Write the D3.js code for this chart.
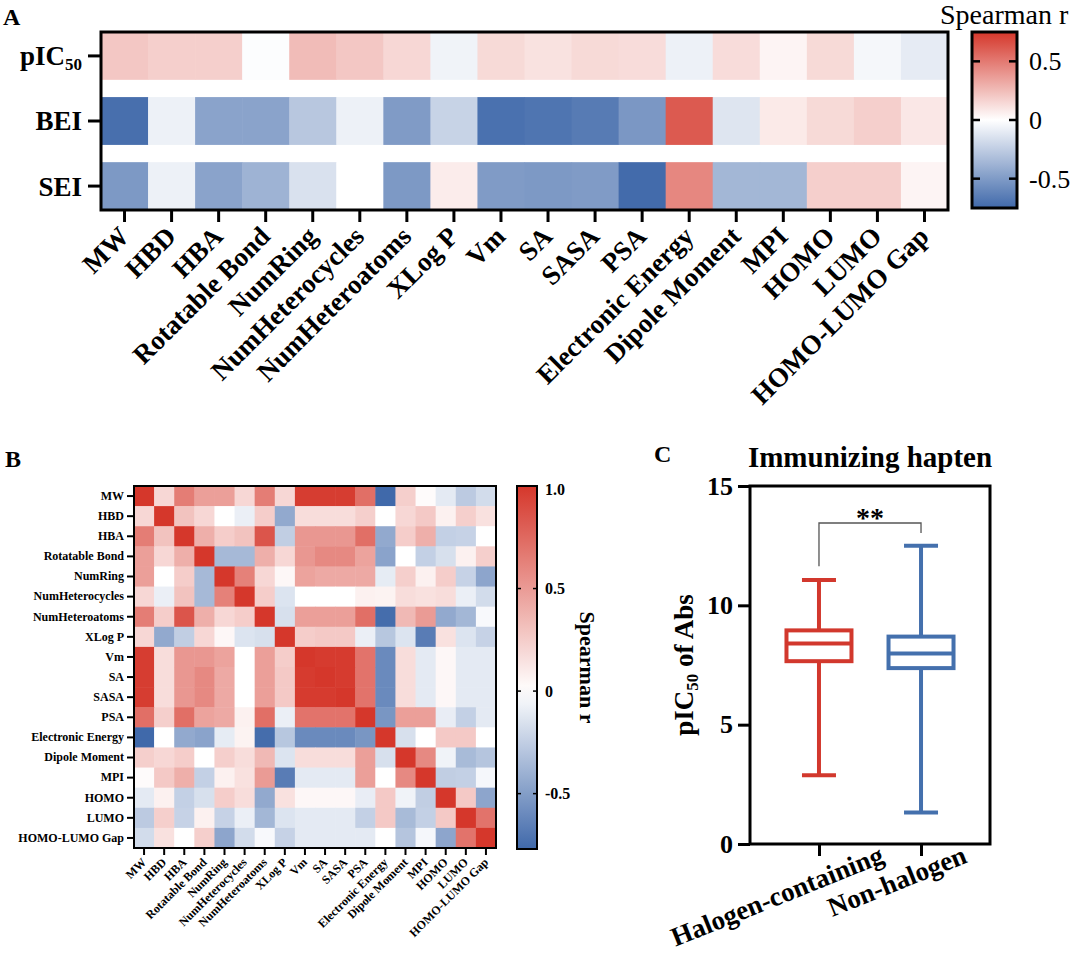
<!DOCTYPE html>
<html><head><meta charset="utf-8">
<script src="https://cdn.jsdelivr.net/npm/d3@7"></script>
<style>
body{margin:0;background:#fff}
svg{display:block}
text{font-family:"Liberation Serif","Times New Roman",serif}
</style>
</head><body>
<svg id="c" width="1080" height="957"></svg>
<script>
// ---------- DATA ----------
const features = ["MW","HBD","HBA","Rotatable Bond","NumRing","NumHeterocycles","NumHeteroatoms","XLog P","Vm","SA","SASA","PSA","Electronic Energy","Dipole Moment","MPI","HOMO","LUMO","HOMO-LUMO Gap"];
const rowsA = ["pIC50","BEI","SEI"];
const pic50Vals = [0.21,0.18,0.18,-0.01,0.25,0.21,0.15,-0.06,0.14,0.11,0.14,0.13,-0.07,0.13,0.04,0.14,-0.04,-0.10];
const beiVals   = [-0.72,-0.07,-0.46,-0.46,-0.28,-0.07,-0.50,-0.22,-0.71,-0.69,-0.66,-0.52,0.62,-0.13,0.08,0.14,0.18,0.09];
const seiVals   = [-0.51,-0.07,-0.46,-0.38,-0.15,0.00,-0.51,0.07,-0.50,-0.51,-0.50,-0.74,0.45,-0.36,-0.36,0.18,0.18,0.04];
const ticksCbA = [0.5, 0, -0.5];

// Panel B correlation matrix (rows/cols in order of `features`)
const corrMatrix = [
 [1,.2,.65,.48,.48,.2,.65,.2,.97,.97,.97,.72,-.77,.24,.02,-.11,-.27,-.18],
 [.2,1,.3,.2,0,-.08,.25,-.44,.17,.17,.17,.24,0,.2,.27,.07,.24,.15],
 [.65,.3,1,.4,.25,.3,.85,-.25,.52,.52,.52,.72,-.44,.25,.4,-.24,-.23,0],
 [.48,.2,.4,1,-.36,-.36,.4,.2,.52,.59,.59,.46,-.47,0,-.24,-.16,.07,.24],
 [.48,0,.25,-.36,1,.63,.2,.04,.46,.43,.43,.43,-.1,.24,.07,.25,-.23,-.46],
 [.2,-.08,.3,-.36,.63,1,.25,-.14,0,0,0,.07,.06,.17,.15,.17,-.08,-.18],
 [.65,.25,.85,.4,.2,.25,1,-.16,.48,.48,.48,.72,-.75,.35,.5,-.44,-.37,-.03],
 [.2,-.44,-.25,.2,.04,-.14,-.16,1,.25,.27,.27,-.08,-.29,-.14,-.67,.15,-.14,-.23],
 [.97,.17,.52,.52,.46,0,.48,.25,1,.98,.98,.7,-.6,.17,-.11,.04,-.11,-.11],
 [.97,.17,.52,.59,.43,0,.48,.27,.98,1,.98,.7,-.6,.17,-.11,.04,-.11,-.11],
 [.97,.17,.52,.59,.43,0,.48,.27,.98,.98,1,.7,-.6,.17,-.11,.04,-.11,-.11],
 [.72,.24,.72,.46,.43,.07,.72,-.08,.7,.7,.7,1,-.54,.48,.48,-.09,-.24,-.11],
 [-.77,0,-.44,-.47,-.1,.06,-.75,-.29,-.6,-.6,-.6,-.54,1,-.16,0,.27,.27,0],
 [.24,.2,.25,0,.24,.17,.35,-.14,.17,.17,.17,.48,-.16,1,.59,-.06,-.35,-.3],
 [.02,.27,.4,-.24,.07,.15,.5,-.67,-.11,-.11,-.11,.48,0,.59,1,-.25,-.24,-.04],
 [-.11,.07,-.24,-.16,.25,.17,-.44,.15,.04,.04,.04,-.09,.27,-.06,-.25,1,.27,-.46],
 [-.27,.24,-.23,.07,-.23,-.08,-.37,-.14,-.11,-.11,-.11,-.24,.27,-.35,-.24,.27,1,.7],
 [-.18,.15,0,.24,-.46,-.18,-.03,-.23,-.11,-.11,-.11,-.11,0,-.3,-.04,-.46,.7,1]
];
const ticksCbB = [1.0, 0.5, 0, -0.5];

// Panel C box plot summary
const groupsC = ["Halogen-containing","Non-halogen"];
const boxMin    = [2.88, 1.32];
const boxQ1     = [7.66, 7.37];
const boxMedian = [8.40, 7.98];
const boxQ3     = [8.95, 8.69];
const boxMax    = [11.06, 12.50];
const ticksC = [0, 5, 10, 15];
const sigBracket = [11.64, 13.45, 13.03]; // left leg end, top, right leg end
const sigLabel = "**";

// ---------- STYLE ----------
const RED = "#d5372b", BLUE = "#4069aa", WHITE = "#ffffff";
const FONT = "Liberation Serif, Times New Roman, serif";
const colorA = d3.scaleLinear().domain([-0.75,0,0.75]).range([BLUE,WHITE,RED]).clamp(true);
const colorB = d3.scaleLinear().domain([-0.77,0,1]).range([BLUE,WHITE,RED]).clamp(true);
const boxColors = ["#d2382d","#4470ad"];
const labelShiftC = [66, 47];

const svg = d3.select("#c");
const defs = svg.append("defs");

function vGradient(id, scale, lo, hi){
  const g = defs.append("linearGradient").attr("id",id).attr("x1",0).attr("y1",1).attr("x2",0).attr("y2",0);
  d3.range(0,1.0001,0.05).forEach(t=>{
    const v = lo + (hi-lo)*t;
    g.append("stop").attr("offset",t).attr("stop-color",scale(v));
  });
}

// ---------- PANEL A ----------
const A = {x0:101, x1:948, y0:32, y1:210};
const xA = d3.scaleBand().domain(features).range([A.x0,A.x1]);
const yA = d3.scaleBand().domain(rowsA).range([A.y0,A.y1]).paddingInner(0.265).paddingOuter(0);
const valsA = [pic50Vals, beiVals, seiVals];
const gA = svg.append("g");
rowsA.forEach((r,i)=>{
  gA.append("g").selectAll("rect").data(valsA[i]).join("rect")
    .attr("x",(d,j)=>xA(features[j])).attr("y",yA(r))
    .attr("width",xA.bandwidth()+0.6).attr("height",yA.bandwidth())
    .attr("fill",d=>colorA(d));
});
gA.append("rect").attr("x",A.x0).attr("y",A.y0).attr("width",A.x1-A.x0).attr("height",A.y1-A.y0)
  .attr("fill","none").attr("stroke","#000").attr("stroke-width",3);

const axAx = gA.append("g").attr("transform",`translate(0,${A.y1})`)
  .call(d3.axisBottom(xA).tickSize(12).tickSizeOuter(0)).attr("font-family",FONT);
axAx.select(".domain").remove();
axAx.selectAll(".tick line").attr("stroke-width",3);
axAx.selectAll(".tick text").attr("x",0).attr("y",0).attr("dy",0)
  .attr("text-anchor","end").attr("font-size",27).attr("font-weight","bold")
  .attr("transform","translate(6,28) rotate(-45)");

const axAy = gA.append("g").attr("transform",`translate(${A.x0},0)`)
  .call(d3.axisLeft(yA).tickSize(13).tickSizeOuter(0).tickFormat(""));
axAy.select(".domain").remove();
axAy.selectAll(".tick line").attr("stroke-width",3);
rowsA.forEach(r=>{
  const t = gA.append("text").attr("x",A.x0-19).attr("y",yA(r)+yA.bandwidth()/2).attr("dy","0.35em")
    .attr("text-anchor","end").attr("font-size",27).attr("font-weight","bold");
  if(r==="pIC50"){ t.append("tspan").text("pIC"); t.append("tspan").attr("font-size",17).attr("dy",5).text("50"); }
  else t.text(r);
});

// colorbar A
const cbA = {x:972, w:45, y0:32, y1:208};
const yCbA = d3.scaleLinear().domain([-0.75,0.75]).range([cbA.y1,cbA.y0]);
vGradient("gradA", colorA, -0.75, 0.75);
svg.append("rect").attr("x",cbA.x).attr("y",cbA.y0).attr("width",cbA.w).attr("height",cbA.y1-cbA.y0)
  .attr("fill","url(#gradA)").attr("stroke","#000").attr("stroke-width",3);
ticksCbA.forEach(v=>{
  const y = yCbA(v);
  svg.append("line").attr("x1",cbA.x).attr("x2",cbA.x+8).attr("y1",y).attr("y2",y).attr("stroke","#000").attr("stroke-width",2.5);
  svg.append("line").attr("x1",cbA.x+cbA.w-8).attr("x2",cbA.x+cbA.w).attr("y1",y).attr("y2",y).attr("stroke","#000").attr("stroke-width",2.5);
  svg.append("text").attr("x",cbA.x+cbA.w+12).attr("y",y).attr("dy","0.35em").attr("font-size",26).text(v);
});
svg.append("text").attr("x",940).attr("y",24).attr("font-size",28).text("Spearman r");

// ---------- PANEL B ----------
const B = {x0:134, y0:486, size:362};
const xB = d3.scaleBand().domain(features).range([B.x0,B.x0+B.size]);
const yB = d3.scaleBand().domain(features).range([B.y0,B.y0+B.size]);
const gB = svg.append("g");
corrMatrix.forEach((row,i)=>{
  gB.append("g").selectAll("rect").data(row).join("rect")
    .attr("x",(d,j)=>xB(features[j])).attr("y",yB(features[i]))
    .attr("width",xB.bandwidth()+0.5).attr("height",yB.bandwidth()+0.5)
    .attr("fill",d=>colorB(d));
});
gB.append("rect").attr("x",B.x0).attr("y",B.y0).attr("width",B.size).attr("height",B.size)
  .attr("fill","none").attr("stroke","#000").attr("stroke-width",2);
const axBy = gB.append("g").attr("transform",`translate(${B.x0},0)`)
  .call(d3.axisLeft(yB).tickSize(7).tickSizeOuter(0)).attr("font-family",FONT);
axBy.select(".domain").remove();
axBy.selectAll(".tick line").attr("stroke-width",2);
axBy.selectAll(".tick text").attr("font-size",12).attr("font-weight","bold").attr("x",-10);
const axBx = gB.append("g").attr("transform",`translate(0,${B.y0+B.size})`)
  .call(d3.axisBottom(xB).tickSize(7).tickSizeOuter(0)).attr("font-family",FONT);
axBx.select(".domain").remove();
axBx.selectAll(".tick line").attr("stroke-width",2);
axBx.selectAll(".tick text").attr("x",0).attr("y",0).attr("dy",0)
  .attr("text-anchor","end").attr("font-size",12).attr("font-weight","bold")
  .attr("transform","translate(3,15) rotate(-45)");

// colorbar B
const cbB = {x:517, w:20, y0:486, y1:849};
const yCbB = d3.scaleLinear().domain([-0.77,1]).range([cbB.y1,cbB.y0]);
vGradient("gradB", colorB, -0.77, 1);
svg.append("rect").attr("x",cbB.x).attr("y",cbB.y0).attr("width",cbB.w).attr("height",cbB.y1-cbB.y0)
  .attr("fill","url(#gradB)").attr("stroke","#000").attr("stroke-width",2);
ticksCbB.forEach(v=>{
  const y = yCbB(v);
  svg.append("line").attr("x1",cbB.x).attr("x2",cbB.x+4).attr("y1",y).attr("y2",y).attr("stroke","#000").attr("stroke-width",1.5);
  svg.append("line").attr("x1",cbB.x+cbB.w-4).attr("x2",cbB.x+cbB.w).attr("y1",y).attr("y2",y).attr("stroke","#000").attr("stroke-width",1.5);
  svg.append("text").attr("x",cbB.x+cbB.w+8).attr("y",y).attr("dy",v===1?"0.55em":"0.35em")
    .attr("font-size",16).attr("font-weight","bold").text(v===1?"1.0":v);
});
svg.append("text").attr("transform",`translate(580,${(cbB.y0+cbB.y1)/2}) rotate(90)`)
  .attr("text-anchor","middle").attr("font-size",22).attr("font-weight","bold").text("Spearman r");

// ---------- PANEL C ----------
const C = {x0:750, x1:990, y0:486, y1:844};
const yC = d3.scaleLinear().domain([0,15]).range([C.y1,C.y0]);
const xC = d3.scalePoint().domain(groupsC).range([C.x0,C.x1]).padding(0.676);
const gC = svg.append("g");
gC.append("rect").attr("x",C.x0).attr("y",C.y0).attr("width",C.x1-C.x0).attr("height",C.y1-C.y0)
  .attr("fill","none").attr("stroke","#000").attr("stroke-width",3);
const axCy = gC.append("g").attr("transform",`translate(${C.x0},0)`)
  .call(d3.axisLeft(yC).tickValues(ticksC).tickSize(12).tickSizeOuter(0)).attr("font-family",FONT);
axCy.select(".domain").remove();
axCy.selectAll(".tick line").attr("stroke-width",3);
axCy.selectAll(".tick text").attr("font-size",26).attr("font-weight","bold").attr("x",-17);
const axCx = gC.append("g").attr("transform",`translate(0,${C.y1})`)
  .call(d3.axisBottom(xC).tickSize(12).tickSizeOuter(0)).attr("font-family",FONT);
axCx.select(".domain").remove();
axCx.selectAll(".tick line").attr("stroke-width",3);
axCx.selectAll(".tick text").attr("x",0).attr("y",0).attr("dy",0)
  .attr("text-anchor","end").attr("font-size",27).attr("font-weight","bold")
  .attr("transform",(d,i)=>`translate(${labelShiftC[i]},18) rotate(-22)`);

const boxW = 65, capW = 34, sw = 4;
groupsC.forEach((g,i)=>{
  const cx = xC(g), col = boxColors[i];
  gC.append("line").attr("x1",cx).attr("x2",cx).attr("y1",yC(boxMin[i])).attr("y2",yC(boxMax[i]))
    .attr("stroke",col).attr("stroke-width",sw);
  [boxMin[i], boxMax[i]].forEach(v=>{
    gC.append("line").attr("x1",cx-capW/2).attr("x2",cx+capW/2).attr("y1",yC(v)).attr("y2",yC(v))
      .attr("stroke",col).attr("stroke-width",sw);
  });
  gC.append("rect").attr("x",cx-boxW/2).attr("y",yC(boxQ3[i])).attr("width",boxW)
    .attr("height",yC(boxQ1[i])-yC(boxQ3[i])).attr("fill","#fff").attr("stroke",col).attr("stroke-width",sw);
  gC.append("line").attr("x1",cx-boxW/2).attr("x2",cx+boxW/2).attr("y1",yC(boxMedian[i])).attr("y2",yC(boxMedian[i]))
    .attr("stroke",col).attr("stroke-width",sw);
});
const bx0 = xC(groupsC[0]), bx1 = xC(groupsC[1]);
gC.append("path").attr("d",`M${bx0},${yC(sigBracket[0])}V${yC(sigBracket[1])}H${bx1}V${yC(sigBracket[2])}`)
  .attr("fill","none").attr("stroke","#555").attr("stroke-width",1.3);
gC.append("text").attr("x",(bx0+bx1)/2).attr("y",yC(sigBracket[1])+4).attr("text-anchor","middle")
  .attr("font-size",28).attr("font-weight","bold").text(sigLabel);
gC.append("text").attr("x",(C.x0+C.x1)/2).attr("y",467).attr("text-anchor","middle")
  .attr("font-size",29).attr("font-weight","bold").text("Immunizing hapten");
const yl = gC.append("text").attr("transform",`translate(693,${(C.y0+C.y1)/2}) rotate(-90)`)
  .attr("text-anchor","middle").attr("font-size",27).attr("font-weight","bold");
yl.append("tspan").text("pIC");
yl.append("tspan").attr("font-size",17).attr("dy",5).text("50");
yl.append("tspan").attr("dy",-5).text(" of Abs");

// ---------- PANEL LETTERS ----------
svg.append("text").attr("x",3).attr("y",25).attr("font-size",24).attr("font-weight","bold").text("A");
svg.append("text").attr("x",5).attr("y",467).attr("font-size",24).attr("font-weight","bold").text("B");
svg.append("text").attr("x",654).attr("y",462).attr("font-size",24).attr("font-weight","bold").text("C");
</script>
</body></html>
